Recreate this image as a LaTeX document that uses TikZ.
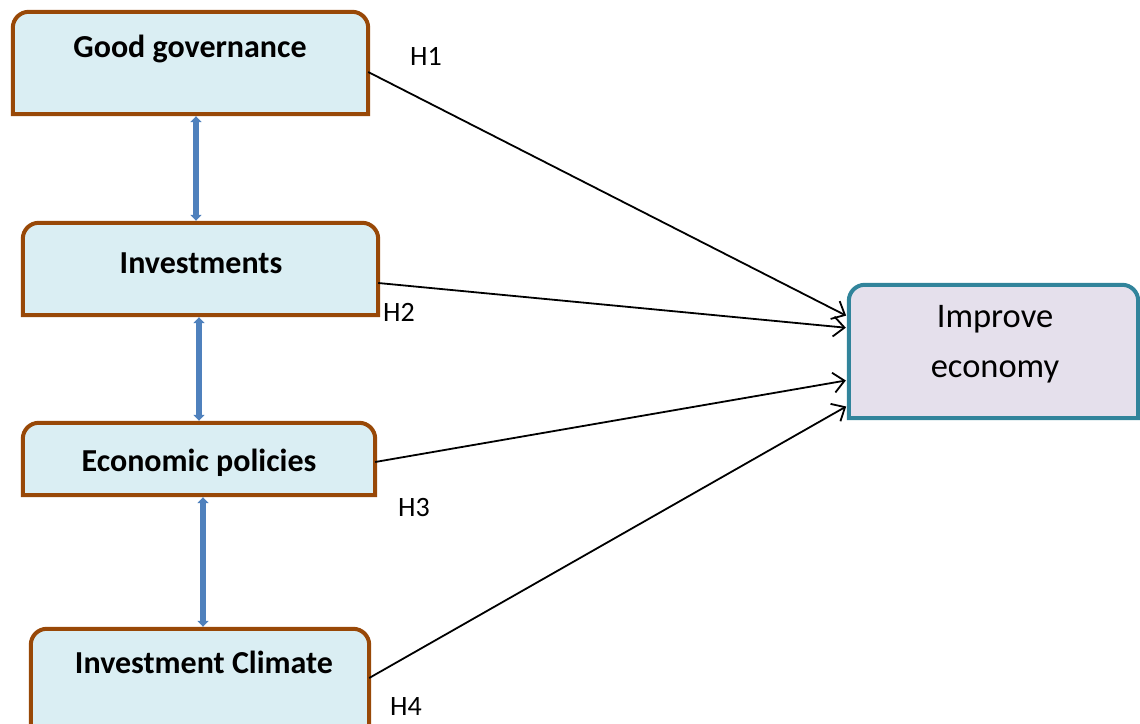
\documentclass[tikz,border=0pt]{standalone}
\usepackage{fontspec}
\setmainfont{Carlito}
\usetikzlibrary{arrows.meta}
\definecolor{causeedge}{HTML}{984807}
\definecolor{causefill}{HTML}{DAEEF3}
\definecolor{effectedge}{HTML}{31849B}
\definecolor{effectfill}{HTML}{E5E0EC}
\definecolor{linkblue}{HTML}{4F81BD}
\tikzset{
  box/.style={inner sep=0pt},
  causetext/.style={font=\fontsize{32}{38}\selectfont\bfseries, inner sep=0pt},
  effecttext/.style={font=\fontsize{34.5}{50}\selectfont, align=center, inner sep=0pt},
  hyp/.style={font=\fontsize{28}{33}\selectfont, inner sep=0pt},
  link/.style={{Triangle[length=6pt,width=11pt]}-{Triangle[length=6pt,width=11pt]}, line width=6pt, draw=linkblue, shorten <=2pt, shorten >=2pt},
  effect/.style={-{Straight Barb[length=11pt,width=20pt]}, line width=1.8pt, shorten >=3pt}
}
% frame with rounded top corners only
\newcommand{\topframe}[3]{%
  \filldraw[draw=#2, fill=#3, line width=4pt] (#1.south west) -- ([yshift=-16pt]#1.north west)
    arc[start angle=180, end angle=90, radius=16pt] -- ([xshift=-16pt]#1.north east)
    arc[start angle=90, end angle=0, radius=16pt] -- (#1.south east) -- cycle;}
\begin{document}
\begin{tikzpicture}[x=1pt, y=1pt]
  \useasboundingbox (0,0) rectangle (1140,723);
  % boxes
  \node[box, minimum width=355pt, minimum height=102pt] (gg) at (190.5,660) {};
  \node[box, minimum width=355pt, minimum height=92pt] (inv) at (200.5,454) {};
  \node[box, minimum width=352pt, minimum height=72pt] (ep) at (199,264) {};
  \node[box, minimum width=338pt, minimum height=131pt] (ic) at (200,28.5) {};
  \node[box, minimum width=289pt, minimum height=133pt] (impr) at (993.5,371.5) {};
  \topframe{gg}{causeedge}{causefill}
  \topframe{inv}{causeedge}{causefill}
  \topframe{ep}{causeedge}{causefill}
  \topframe{ic}{causeedge}{causefill}
  \topframe{impr}{effectedge}{effectfill}
  % texts
  \node[causetext] (ggtext) at (190,674) {Good governance};
  \node[causetext] (invtext) at (201,460) {Investments};
  \node[causetext] (eptext) at (199,260) {Economic policies};
  \node[causetext] (ictext) at (204,61) {Investment Climate};
  \node[effecttext] (imprtext) at (995,379) {Improve\\economy};
  % links between causes
  \draw[link] ([xshift=5.5pt]gg.south) -- ([xshift=-4.5pt]inv.north);
  \draw[link] ([xshift=-1.5pt]inv.south) -- (ep.north);
  \draw[link] ([xshift=4pt]ep.south) -- ([xshift=3pt]ic.north);
  % hypotheses
  \draw[effect] ([yshift=-9pt]gg.east) -- ([yshift=34.5pt]impr.west);
  \draw[effect] ([yshift=-14pt]inv.east) -- ([yshift=23.5pt]impr.west);
  \draw[effect] ([yshift=-3pt]ep.east) -- ([yshift=-28.5pt]impr.west);
  \draw[effect] ([yshift=16.5pt]ic.east) -- ([yshift=-53.5pt]impr.west);
  \node[hyp] (h1) at (426,667) {H1};
  \node[hyp] (h2) at (399,411) {H2};
  \node[hyp] (h3) at (414,215) {H3};
  \node[hyp] (h4) at (406,16) {H4};
\end{tikzpicture}
\end{document}
